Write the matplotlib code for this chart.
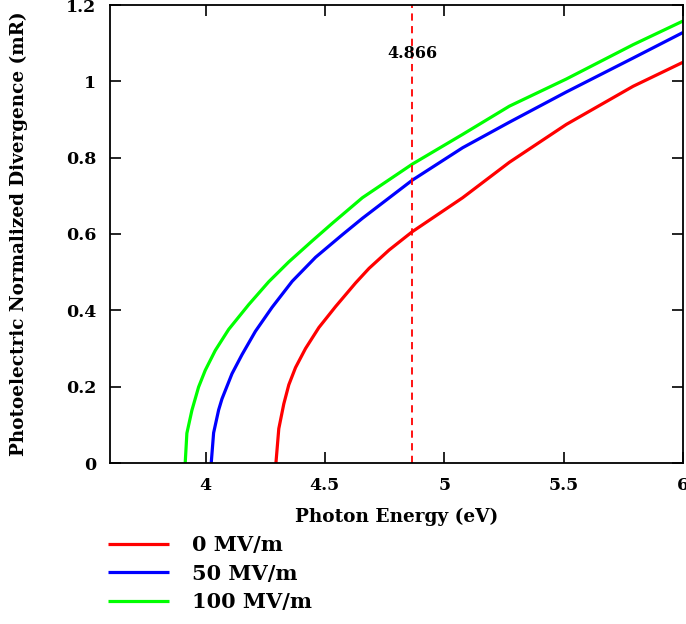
import matplotlib
matplotlib.use("Agg")
import matplotlib.pyplot as plt

# Data
x_0 = [4.295, 4.307, 4.328, 4.349, 4.377, 4.419, 4.475, 4.545, 4.629, 4.685, 4.769, 4.866, 5.077, 5.273, 5.511, 5.791, 6.0]
y_0 = [0.0, 0.09, 0.155, 0.205, 0.25, 0.30, 0.355, 0.41, 0.472, 0.51, 0.558, 0.606, 0.695, 0.788, 0.887, 0.987, 1.05]

x_50 = [4.024, 4.034, 4.055, 4.069, 4.111, 4.153, 4.209, 4.279, 4.363, 4.461, 4.573, 4.657, 4.866, 5.077, 5.273, 5.511, 5.791, 6.0]
y_50 = [0.0, 0.079, 0.139, 0.168, 0.234, 0.284, 0.345, 0.408, 0.476, 0.539, 0.598, 0.641, 0.741, 0.826, 0.893, 0.972, 1.061, 1.128]

x_100 = [3.915, 3.922, 3.943, 3.971, 3.999, 4.041, 4.097, 4.181, 4.265, 4.349, 4.447, 4.531, 4.657, 4.866, 5.077, 5.273, 5.511, 5.791, 6.0]
y_100 = [0.0, 0.078, 0.138, 0.199, 0.243, 0.295, 0.35, 0.415, 0.475, 0.527, 0.582, 0.628, 0.695, 0.783, 0.861, 0.935, 1.006, 1.096, 1.158]

labels = ["0 MV/m", "50 MV/m", "100 MV/m"]
colors = ["#ff0000", "#0000ff", "#00ff00"]
marker_x = 4.866
marker_label = "4.866"
xticks = [4, 4.5, 5, 5.5, 6]
xticklabels = ["4", "4.5", "5", "5.5", "6"]
yticks = [0, 0.2, 0.4, 0.6, 0.8, 1.0, 1.2]
yticklabels = ["0", "0.2", "0.4", "0.6", "0.8", "1", "1.2"]

plt.rcParams['font.family'] = ['DejaVu Serif']
plt.rcParams['font.weight'] = 'bold'

fig = plt.figure(figsize=(6.86, 6.24), dpi=100)
ax = fig.add_axes([110/686, 1-463/624, (683-110)/686, (463-5)/624])

lines = []
for xs, ys, c, lab in zip([x_0, x_50, x_100], [y_0, y_50, y_100], colors, labels):
    l, = ax.plot(xs, ys, color=c, lw=2.3, label=lab, solid_capstyle='butt')
    lines.append(l)

ax.axvline(marker_x, color="#ff0000", lw=1.3, ls=(0, (4, 3)))
ax.text(marker_x, 1.073, marker_label, ha='center', va='center', fontsize=11.5, fontweight='bold')

ax.set_xlim(3.6, 6.0)
ax.set_ylim(0, 1.2)
ax.set_xticks(xticks)
ax.set_xticklabels(xticklabels)
ax.set_yticks(yticks)
ax.set_yticklabels(yticklabels)
ax.tick_params(direction='in', length=8, width=1.2, labelsize=12.5, pad=10,
               top=True, right=True)
for s in ax.spines.values():
    s.set_linewidth(1.3)

ax.set_xlabel("Photon Energy (eV)", fontsize=13.3, fontweight='bold', labelpad=10)
ax.set_ylabel("Photoelectric Normalized Divergence (mR)", fontsize=13.2, fontweight='bold', labelpad=27)

fig.legend(handles=lines, labels=labels, loc='upper left', bbox_to_anchor=(104/686, 1-531/624),
           frameon=False, fontsize=15, handlelength=2.9, handletextpad=1.1, labelspacing=0.4,
           borderaxespad=0, borderpad=0.2)

fig.savefig("out.png", dpi=100)
